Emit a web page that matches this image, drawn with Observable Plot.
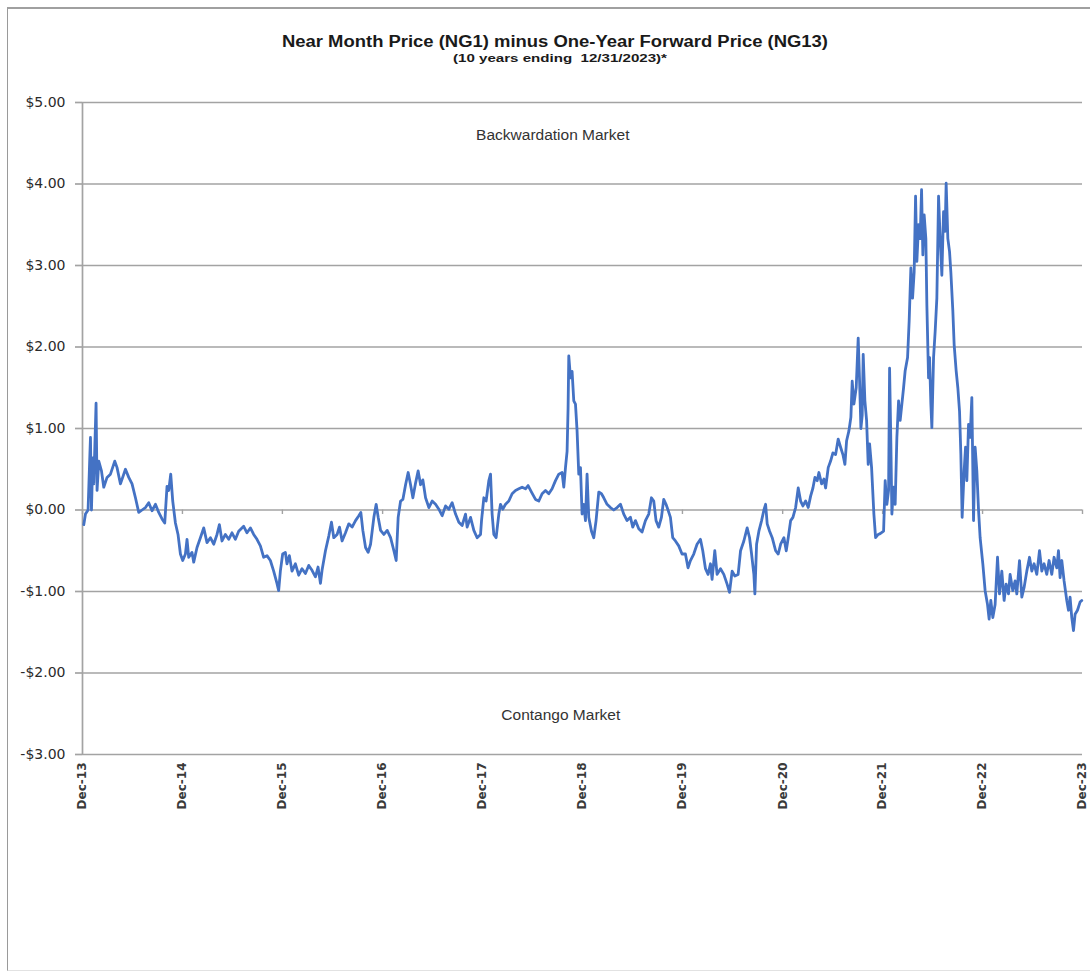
<!DOCTYPE html>
<html>
<head>
<meta charset="utf-8">
<script src="https://cdn.jsdelivr.net/npm/d3@7"></script>
<script src="https://cdn.jsdelivr.net/npm/@observablehq/plot@0.6"></script>
<style>
  body { margin: 0; background: #fff; }
  #wrap { position: relative; width: 1090px; height: 977px; overflow: hidden; background: #fff; }
  #frame { position: absolute; left: 7px; top: 7px; width: 1110px; height: 964px;
           border-left: 1.5px solid #9a9a9a; border-top: 2px solid #a0a0a0;
           border-bottom: 1px solid #e2e2e2; box-sizing: border-box; }
  #head { position: absolute; left: 0; top: 0; }
  #chart { position: absolute; left: 0; top: 70px; }
</style>
</head>
<body>
<div id="wrap">
  <div id="frame"></div>
  <svg id="head" width="1090" height="70">
    <text x="555" y="47" text-anchor="middle" font-family="Liberation Sans, Arial, sans-serif" font-weight="bold" font-size="16" fill="#1a1a1a" textLength="546" lengthAdjust="spacingAndGlyphs">Near Month Price (NG1) minus One-Year Forward Price (NG13)</text>
    <text x="560" y="62" text-anchor="middle" font-family="Liberation Sans, Arial, sans-serif" font-weight="bold" font-size="11" fill="#1a1a1a" textLength="214" lengthAdjust="spacingAndGlyphs" style="white-space:pre">(10 years ending  12/31/2023)*</text>
  </svg>
  <div id="chart"></div>
</div>
<script>
// ---- data: [decimal year, NG1 - NG13 spread in $] ----
const spread2014_15 = [
  [2014.010,-0.18],[2014.027,-0.05],[2014.053,0.0],[2014.070,0.64],[2014.077,0.89],[2014.087,0.0],[2014.100,0.64],[2014.110,0.32],[2014.133,1.31],[2014.143,0.24],
  [2014.160,0.6],[2014.187,0.48],[2014.210,0.28],[2014.243,0.4],[2014.277,0.44],[2014.320,0.6],[2014.343,0.52],[2014.377,0.32],[2014.427,0.5],[2014.460,0.4],
  [2014.493,0.32],[2014.527,0.15],[2014.560,-0.03],[2014.593,0.0],[2014.627,0.03],[2014.660,0.09],[2014.693,-0.01],[2014.727,0.07],[2014.760,-0.03],[2014.793,-0.11],
  [2014.820,-0.16],[2014.843,0.29],[2014.860,0.24],[2014.880,0.44],[2014.900,0.11],[2014.927,-0.16],[2014.953,-0.3],[2014.977,-0.54],
  [2015.000,-0.62],[2015.027,-0.54],[2015.043,-0.36],[2015.060,-0.58],[2015.093,-0.52],[2015.110,-0.64],[2015.143,-0.46],[2015.177,-0.34],[2015.210,-0.22],[2015.243,-0.4],
  [2015.277,-0.34],[2015.310,-0.42],[2015.343,-0.3],[2015.367,-0.18],[2015.393,-0.38],[2015.427,-0.3],[2015.460,-0.36],[2015.493,-0.28],[2015.527,-0.36],[2015.560,-0.26],
  [2015.610,-0.2],[2015.643,-0.28],[2015.677,-0.22],[2015.710,-0.3],[2015.743,-0.36],[2015.777,-0.44],[2015.810,-0.58],[2015.843,-0.56],[2015.877,-0.62],[2015.910,-0.75],
  [2015.943,-0.9],[2015.960,-0.99],[2015.977,-0.75],[2016.000,-0.54]
];
const spread2016_17 = [
  [2016.027,-0.52],[2016.043,-0.66],[2016.067,-0.56],[2016.093,-0.75],[2016.127,-0.66],[2016.160,-0.8],[2016.193,-0.72],[2016.227,-0.78],[2016.260,-0.68],[2016.293,-0.74],
  [2016.327,-0.82],[2016.353,-0.7],[2016.377,-0.9],[2016.393,-0.74],[2016.427,-0.5],[2016.460,-0.32],[2016.487,-0.15],[2016.510,-0.34],[2016.543,-0.3],[2016.567,-0.21],
  [2016.593,-0.38],[2016.627,-0.28],[2016.660,-0.17],[2016.693,-0.21],[2016.727,-0.13],[2016.760,-0.07],[2016.780,-0.03],[2016.800,-0.25],[2016.827,-0.46],[2016.853,-0.52],
  [2016.877,-0.42],[2016.910,-0.09],[2016.933,0.07],[2016.953,-0.09],[2016.977,-0.25],
  [2017.010,-0.3],[2017.043,-0.25],[2017.077,-0.34],[2017.110,-0.5],[2017.133,-0.62],[2017.153,-0.09],[2017.177,0.11],[2017.200,0.13],[2017.227,0.31],[2017.253,0.46],
  [2017.277,0.31],[2017.300,0.15],[2017.327,0.33],[2017.353,0.48],[2017.377,0.31],[2017.400,0.37],[2017.427,0.15],[2017.460,0.03],[2017.493,0.11],[2017.527,0.07],
  [2017.560,0.01],[2017.593,-0.07],[2017.627,0.05],[2017.660,0.01],[2017.693,0.09],[2017.727,-0.05],[2017.760,-0.15],[2017.793,-0.19],[2017.827,-0.05],[2017.843,-0.21],
  [2017.877,-0.09],[2017.910,-0.25],[2017.943,-0.34],[2017.977,-0.3],[2017.987,-0.13]
];
const spread2018_19 = [
  [2018.010,0.15],[2018.033,0.11],[2018.060,0.36],[2018.077,0.44],[2018.093,-0.05],[2018.110,-0.3],[2018.133,-0.34],[2018.160,-0.05],[2018.177,0.07],[2018.200,0.01],
  [2018.227,0.07],[2018.260,0.11],[2018.293,0.2],[2018.327,0.24],[2018.360,0.26],[2018.393,0.28],[2018.427,0.26],[2018.453,0.3],[2018.487,0.22],[2018.527,0.13],
  [2018.560,0.11],[2018.593,0.2],[2018.627,0.24],[2018.660,0.2],[2018.693,0.26],[2018.727,0.36],[2018.760,0.44],[2018.793,0.46],[2018.810,0.28],[2018.827,0.52],
  [2018.843,0.72],[2018.853,1.25],[2018.860,1.89],[2018.877,1.62],[2018.893,1.70],[2018.910,1.34],[2018.927,1.3],[2018.943,0.97],[2018.960,0.44],[2018.977,0.52],
  [2018.993,-0.05],[2019.010,0.07],[2019.027,-0.13],[2019.043,0.44],[2019.060,-0.09],[2019.087,-0.26],[2019.110,-0.34],[2019.133,-0.13],[2019.160,0.22],[2019.187,0.2],
  [2019.210,0.15],[2019.243,0.07],[2019.277,0.03],[2019.310,0.0],[2019.343,0.03],[2019.377,0.07],[2019.410,-0.05],[2019.443,-0.13],[2019.477,-0.09],[2019.500,-0.21],
  [2019.527,-0.13],[2019.560,-0.23],[2019.593,-0.27],[2019.627,-0.13],[2019.660,-0.05],[2019.687,0.15],[2019.710,0.11],[2019.733,-0.13],[2019.760,-0.21],[2019.787,-0.09],
  [2019.810,0.13],[2019.833,0.07],[2019.853,0.0],[2019.877,-0.09],[2019.900,-0.34],[2019.927,-0.38],[2019.960,-0.44],[2019.993,-0.54]
];
const spread2020_21 = [
  [2020.027,-0.54],[2020.053,-0.71],[2020.077,-0.62],[2020.110,-0.54],[2020.143,-0.42],[2020.177,-0.36],[2020.200,-0.5],[2020.227,-0.72],[2020.253,-0.79],[2020.277,-0.66],
  [2020.293,-0.85],[2020.320,-0.5],[2020.343,-0.79],[2020.377,-0.72],[2020.410,-0.79],[2020.443,-0.91],[2020.467,-1.01],[2020.493,-0.75],[2020.520,-0.81],[2020.553,-0.79],
  [2020.577,-0.5],[2020.610,-0.38],[2020.643,-0.22],[2020.667,-0.34],[2020.687,-0.54],[2020.710,-0.79],[2020.720,-1.03],[2020.737,-0.42],[2020.760,-0.26],[2020.787,-0.13],
  [2020.810,0.0],[2020.827,0.07],[2020.843,-0.17],[2020.867,-0.26],[2020.893,-0.34],[2020.927,-0.5],[2020.953,-0.54],[2020.977,-0.42],
  [2021.010,-0.34],[2021.033,-0.5],[2021.053,-0.34],[2021.077,-0.13],[2021.100,-0.09],[2021.127,0.03],[2021.153,0.27],[2021.177,0.11],[2021.200,0.05],[2021.227,0.11],
  [2021.253,0.03],[2021.277,0.17],[2021.300,0.27],[2021.320,0.4],[2021.343,0.36],[2021.360,0.46],[2021.387,0.32],[2021.410,0.38],[2021.427,0.27],[2021.453,0.52],
  [2021.477,0.6],[2021.500,0.7],[2021.527,0.68],[2021.553,0.87],[2021.577,0.77],[2021.600,0.68],[2021.620,0.56],[2021.637,0.85],[2021.660,0.97],[2021.680,1.14],
  [2021.693,1.58],[2021.710,1.3],[2021.733,1.5],[2021.753,2.11],[2021.767,1.58],[2021.780,1.0],[2021.793,1.16],[2021.803,1.91],[2021.820,1.34],[2021.837,1.1],
  [2021.853,0.56],[2021.867,0.81],[2021.887,0.52],[2021.910,-0.05],[2021.927,-0.34],[2021.953,-0.3],[2021.973,-0.29]
];
const spread2022_23 = [
  [2022.007,-0.26],[2022.023,0.36],[2022.040,0.07],[2022.057,0.24],[2022.067,1.74],[2022.080,0.81],[2022.090,-0.05],[2022.107,0.28],[2022.123,0.07],[2022.140,0.89],
  [2022.157,1.34],[2022.173,1.1],[2022.190,1.3],[2022.207,1.5],[2022.223,1.71],[2022.247,1.87],[2022.263,2.32],[2022.280,2.97],[2022.297,2.6],[2022.313,2.92],
  [2022.327,3.85],[2022.340,3.05],[2022.357,3.5],[2022.373,3.33],[2022.387,3.93],[2022.400,3.13],[2022.413,3.62],[2022.430,3.33],[2022.440,2.52],[2022.457,1.62],
  [2022.467,1.87],[2022.480,1.3],[2022.490,1.01],[2022.507,1.87],[2022.523,2.19],[2022.540,2.6],[2022.557,3.85],[2022.573,3.33],[2022.590,2.88],[2022.607,3.66],
  [2022.623,3.42],[2022.633,4.01],[2022.650,3.33],[2022.667,3.17],[2022.680,2.92],[2022.700,2.44],[2022.713,2.03],[2022.733,1.71],[2022.750,1.5],[2022.767,1.21],
  [2022.780,0.69],[2022.793,-0.09],[2022.813,0.48],[2022.827,0.77],[2022.840,0.36],[2022.857,1.05],[2022.873,0.89],[2022.890,1.38],[2022.907,-0.13],[2022.923,0.77],
  [2022.940,0.48],[2022.957,0.0],[2022.973,-0.34],
  [2023.000,-0.66],[2023.023,-0.99],[2023.047,-1.16],[2023.063,-1.34],[2023.080,-1.11],[2023.100,-1.32],[2023.123,-1.16],[2023.147,-0.58],[2023.167,-1.03],[2023.190,-0.75],
  [2023.213,-1.11],[2023.233,-0.91],[2023.257,-1.03],[2023.273,-0.79],[2023.300,-0.99],[2023.323,-0.87],[2023.340,-1.03],[2023.367,-0.62],[2023.390,-1.07],[2023.413,-0.95],
  [2023.440,-0.75],[2023.467,-0.58],[2023.490,-0.75],[2023.513,-0.66],[2023.540,-0.79],[2023.567,-0.5],[2023.590,-0.75],[2023.613,-0.66],[2023.640,-0.79],[2023.663,-0.62],
  [2023.690,-0.79],[2023.713,-0.58],[2023.740,-0.71],[2023.757,-0.5],[2023.773,-0.83],[2023.790,-0.62],[2023.813,-0.87],[2023.840,-1.11],[2023.857,-1.23],[2023.873,-1.07],
  [2023.890,-1.32],[2023.907,-1.48],[2023.923,-1.28],[2023.947,-1.23],[2023.973,-1.13],[2023.990,-1.11]
];

const yTicks = [-3, -2, -1, 0, 1, 2, 3, 4, 5];
const xTickYears = [2013, 2014, 2015, 2016, 2017, 2018, 2019, 2020, 2021, 2022, 2023];
const noteText = ["Backwardation Market", "Contango Market"];
const noteYear = [2018.70, 2018.78];
const noteValue = [4.60, -2.52];

// ---- helpers ----
function yearToDate(t) {
  const y = Math.floor(t);
  const a = Date.UTC(y, 0, 1), b = Date.UTC(y + 1, 0, 1);
  return new Date(a + (t - y) * (b - a));
}
const data = [...spread2014_15, ...spread2016_17, ...spread2018_19, ...spread2020_21, ...spread2022_23]
  .map(([t, v]) => ({date: yearToDate(t), value: v}));
const xTicks = xTickYears.map(y => new Date(Date.UTC(y, 11, 31)));
const notes = noteText.map((s, i) => ({text: s, date: yearToDate(noteYear[i]), value: noteValue[i]}));
const money = d => (d < 0 ? "-" : "") + "$" + Math.abs(d).toFixed(2);
const grid = "#a3a3a3";

const chart = Plot.plot({
  width: 1090,
  height: 907,
  marginTop: 32,
  marginBottom: 223,
  marginLeft: 82,
  marginRight: 8,
  style: {background: "transparent", overflow: "visible"},
  x: {type: "utc", domain: [xTicks[0], xTicks[xTicks.length - 1]]},
  y: {domain: [-3, 5]},
  marks: [
    Plot.ruleY(yTicks, {stroke: grid, strokeWidth: 1.7}),
    Plot.ruleX([xTicks[0]], {y1: -3, y2: 5, stroke: grid, strokeWidth: 1.7}),
    Plot.ruleX(xTicks, {y1: 0, y2: -0.055, stroke: grid, strokeWidth: 1.4}),
    Plot.axisY(yTicks, {tickSize: 7, tickPadding: 10, stroke: grid, strokeWidth: 1.7, fill: "#2a2a2a",
      fontSize: 14, fontFamily: "DejaVu Sans", tickFormat: money, label: null}),
    Plot.axisX(xTicks, {tickSize: 0, tickPadding: 8, tickRotate: -90, tickFormat: d3.utcFormat("%b-%y"),
      fontSize: 12, fontWeight: "bold", fontFamily: "DejaVu Sans", fill: "#3a3a3a", label: null}),
    Plot.text(notes, {x: "date", y: "value", text: "text", fontSize: 15.5,
      fontFamily: "Liberation Sans, Arial", fill: "#333"}),
    Plot.lineY(data, {x: "date", y: "value", stroke: "#4472c4", strokeWidth: 2.8, strokeLinejoin: "round"})
  ]
});
document.getElementById("chart").appendChild(chart);
</script>
</body>
</html>
